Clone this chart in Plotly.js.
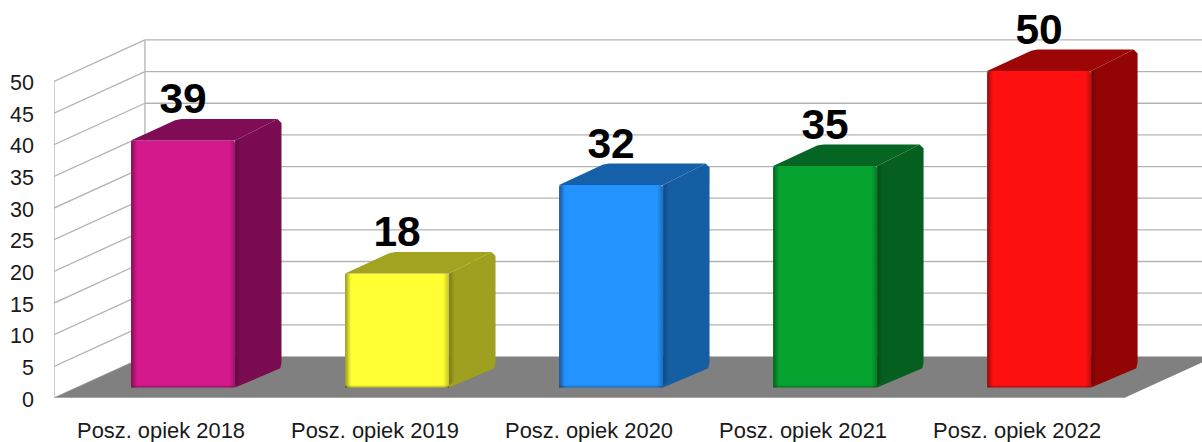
<!DOCTYPE html>
<html>
<head>
<meta charset="utf-8">
<script src="https://cdn.plot.ly/plotly-3.0.1.min.js"></script>
<style>html,body{margin:0;padding:0;background:#fff}#chart{width:1202px;height:442px}</style>
</head>
<body>
<div id="chart"></div>
<script>
const categories = ["Posz. opiek 2018","Posz. opiek 2019","Posz. opiek 2020","Posz. opiek 2021","Posz. opiek 2022"];
const values = [39,18,32,35,50];
const frontColors = ["#d4198c","#ffff33","#2492ff","#06a330","#ff1010"];
const sideColors = ["#7a0c52","#a0a020","#155ea4","#056020","#930505"];
const topColors = ["#7f0c55","#a3a322","#1660aa","#056522","#9c0606"];
const yTicks = [0,5,10,15,20,25,30,35,40,45,50];

// oblique projection, in axis units
const wallDX = 0.425, wallDY = 6.56;
const barDX = 0.217, barDY = 3.4;
const barLift = 1.66, barShift = 0.103, barWidth = 0.486;
const xMin = -0.5, xMax = 4.864, yMax = 62.87, nCat = categories.length;
const grid = '#b3b3b3';

const shapes = [];
const line = (x0,y0,x1,y1)=>shapes.push({type:'line',xref:'x',yref:'y',x0,y0,x1,y1,layer:'below',line:{color:grid,width:1.3}});
const right = xMin + nCat;
yTicks.forEach(t=>{
  line(xMin,t,xMin+wallDX,t+wallDY);
  if(t>0) line(xMin+wallDX,t+wallDY,right+wallDX,t+wallDY);
});
line(xMin,0,xMin,50);
line(xMin+wallDX,wallDY,xMin+wallDX,50+wallDY);
shapes.push({type:'path',xref:'x',yref:'y',layer:'below',fillcolor:'#808080',line:{width:0},
  path:`M${xMin},0 L${right},0 L${right+wallDX},${wallDY} L${xMin+wallDX},${wallDY} Z`});
line(xMin,0,right,0);

const traces = [];
traces.push({type:'bar',x:categories.map((c,i)=>i+barShift),y:values,base:values.map(()=>barLift),width:barWidth,
  marker:{color:frontColors,line:{width:0},cornerradius:3},hoverinfo:'skip',showlegend:false});

function poly(xs,ys,color,grad){
  const t={type:'scatter',mode:'lines',x:[...xs,xs[0]],y:[...ys,ys[0]],fill:'toself',line:{width:0},hoverinfo:'skip',showlegend:false};
  if(grad) t.fillgradient=grad; else t.fillcolor=color;
  traces.push(t);
}
const hGrad=(a,b)=>({type:'horizontal',colorscale:[[0,`rgba(0,0,0,${a})`],[1,`rgba(0,0,0,${b})`]]});
const vGrad=(a,b)=>({type:'vertical',colorscale:[[0,`rgba(0,0,0,${a})`],[1,`rgba(0,0,0,${b})`]]});
const cx=4/214, cy=4/6.33; // corner softening of the box
values.forEach((v,i)=>{
  const l=i+barShift-barWidth/2, r=l+barWidth, b=barLift, tp=b+v;
  const R=r+barDX, B=b+barDY, T=tp+barDY;
  poly([r,R-cx*0.3,R,R,R-cx,r],[b,B-cy*0.6,B+cy,T-cy,T,tp],sideColors[i]);
  poly([l,l+barDX-cx*0.6,l+barDX+cx,R-cx,r],[tp,T-cy*0.3,T,T,tp],topColors[i]);
  const w=6/214, h=2.5/6.33;
  poly([l,l+w,l+w,l],[b,b,tp,tp],null,hGrad(0.4,0));
  poly([r-w,r,r,r-w],[b,b,tp,tp],null,hGrad(0,0.24));
  poly([r,r+w,r+w,r],[b+w*barDY/barDX,b+w*2*barDY/barDX,tp+w*barDY/barDX,tp],null,hGrad(0.22,0));
  poly([l,r,r,l],[b,b,b+h,b+h],null,vGrad(0.3,0));
});
const labelGap = 6.0;
traces.push({type:'scatter',mode:'text',x:values.map((v,i)=>i+barShift),y:values.map(v=>barLift+v+labelGap),
  text:values.map(String),textposition:'middle center',
  textfont:{family:'"Liberation Sans",Arial,sans-serif',size:42.5,weight:'bold',color:'#000'},
  cliponaxis:false,hoverinfo:'skip',showlegend:false});

Plotly.newPlot('chart',traces,{
  width:1202,height:442,margin:{l:54,r:0,t:0,b:44},
  paper_bgcolor:'#fff',plot_bgcolor:'rgba(0,0,0,0)',showlegend:false,
  font:{family:'"Liberation Sans",Arial,sans-serif',color:'#1a1a1a',size:21.5},
  xaxis:{range:[xMin,xMax],tickmode:'array',tickvals:categories.map((c,i)=>i),ticktext:categories,showgrid:false,zeroline:false,showline:false,ticks:'',ticklabelstandoff:17,tickangle:0,automargin:false,tickfont:{size:21.9}},
  yaxis:{range:[0,yMax],tickmode:'array',tickvals:yTicks,ticktext:yTicks.map(String),showgrid:false,zeroline:false,showline:false,ticks:'',ticklabelstandoff:19,ticklabelshift:1,automargin:false},
  shapes
},{displayModeBar:false,staticPlot:true});
</script>
</body>
</html>
